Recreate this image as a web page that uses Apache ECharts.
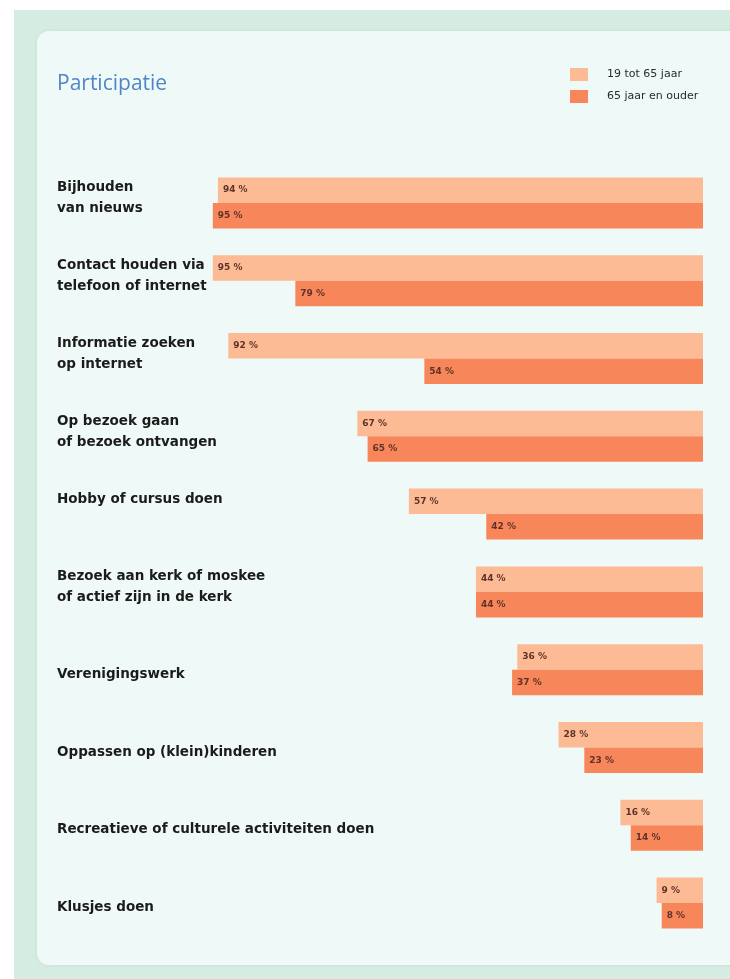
<!DOCTYPE html>
<html>
<head>
<meta charset="utf-8">
<script src="https://cdn.jsdelivr.net/npm/echarts@6/dist/echarts.min.js"></script>
<style>
html,body{margin:0;padding:0;background:#ffffff;}
#chart{width:730px;height:979px;}
</style>
</head>
<body>
<div id="chart"></div>
<script>
var categories = [
  'Bijhouden\nvan nieuws',
  'Contact houden via\ntelefoon of internet',
  'Informatie zoeken\nop internet',
  'Op bezoek gaan\nof bezoek ontvangen',
  'Hobby of cursus doen',
  'Bezoek aan kerk of moskee\nof actief zijn in de kerk',
  'Verenigingswerk',
  'Oppassen op (klein)kinderen',
  'Recreatieve of culturele activiteiten doen',
  'Klusjes doen'
];
var seriesNames = ['19 tot 65 jaar', '65 jaar en ouder'];
var young = [94, 95, 92, 67, 57, 44, 36, 28, 16, 9];
var old = [95, 79, 54, 65, 42, 44, 37, 23, 14, 8];

var chart = echarts.init(document.getElementById('chart'), null, {renderer: 'canvas'});

var labelFont = {fontFamily: 'DejaVu Sans', fontWeight: 700, fontSize: 13.5, color: '#1b1b1b'};
function spacer(h) {
  return {fontSize: 2, lineHeight: h, height: h};
}
var valueLabel = {
  show: true, position: 'insideLeft', distance: 5,
  formatter: '{c} %',
  fontFamily: 'DejaVu Sans', fontWeight: 700, fontSize: 9, color: '#5f3229'
};

var option = {
  animation: false,
  backgroundColor: '#ffffff',
  graphic: [
    {type: 'rect', shape: {x: 14, y: 10, width: 730, height: 979}, style: {fill: '#d5ece3'}, z: -10},
    {type: 'rect', shape: {x: 37, y: 31, width: 720, height: 934, r: 12}, style: {fill: '#eff9f7', shadowBlur: 4, shadowColor: 'rgba(0,0,0,0.06)'}, z: -9}
  ],
  title: {
    text: 'Participatie',
    left: 57,
    top: 74,
    padding: 0,
    textStyle: {fontFamily: 'Open Sans', fontWeight: 400, fontSize: 21, color: '#4f86c6'}
  },
  legend: {
    orient: 'vertical',
    left: 570,
    top: 68,
    padding: 0,
    itemWidth: 18,
    itemHeight: 13,
    itemGap: 9,
    icon: 'rect',
    data: seriesNames,
    textStyle: {fontFamily: 'DejaVu Sans', fontSize: 11, color: '#2a2a2a', padding: [0, 0, 0, 14]}
  },
  grid: {left: 187, right: 27, top: 164, height: 778, containLabel: false},
  xAxis: {
    type: 'value', inverse: true, min: 0, max: 100, show: false
  },
  yAxis: {
    type: 'category',
    inverse: true,
    data: categories,
    axisLine: {show: false, onZero: false},
    axisTick: {show: false},
    splitLine: {show: false},
    axisLabel: {
      margin: 130,
      align: 'left',
      interval: 0,
      fontFamily: 'DejaVu Sans', fontWeight: 700, fontSize: 13.5, color: '#1b1b1b',
      formatter: function (value, index) {
        var lines = value.split('\n');
        var body = lines.map(function (l) { return '{n|' + l + '}'; }).join('\n');
        if (index === 4) return body + '\n{s29| }';
        if (lines.length > 1) return body + '\n{s9| }';
        return '{s9| }\n' + body;
      },
      rich: {
        n: Object.assign({lineHeight: 21, height: 21}, labelFont),
        s9: spacer(9),
        s29: spacer(29)
      }
    }
  },
  series: [
    {
      name: seriesNames[0],
      type: 'bar',
      data: young,
      barWidth: 25.5,
      barGap: '0%',
      itemStyle: {color: '#fdbb95'},
      label: valueLabel
    },
    {
      name: seriesNames[1],
      type: 'bar',
      data: old,
      barWidth: 25.5,
      barGap: '0%',
      itemStyle: {color: '#f8865b'},
      label: valueLabel
    }
  ]
};
chart.setOption(option);
</script>
</body>
</html>
